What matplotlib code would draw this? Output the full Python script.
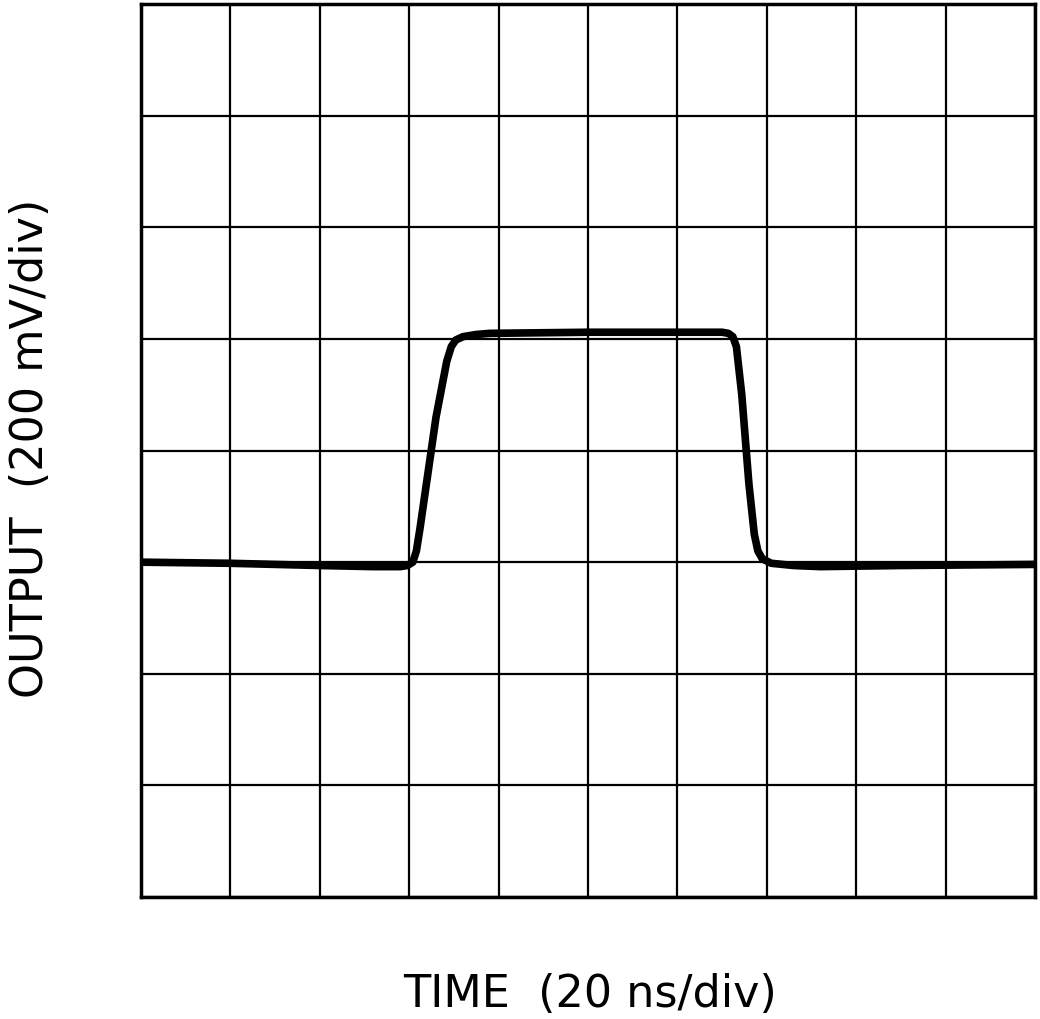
import matplotlib
matplotlib.use("Agg")
import matplotlib.pyplot as plt

# waveform, in divisions (x: 20 ns/div, y: 200 mV/div)
t_div = [0.0, 1.0, 2.0, 2.6, 2.9, 2.98, 3.04, 3.08, 3.12, 3.3, 3.42, 3.47, 3.52, 3.6, 3.75,
         3.9, 5.0, 6.0, 6.5, 6.57, 6.62, 6.66, 6.72, 6.8, 6.86, 6.9, 6.95, 7.05, 7.3,
         7.6, 8.5, 10.0]
v_div = [3.0, 2.99, 2.97, 2.96, 2.96, 2.97, 3.0, 3.1, 3.3, 4.3, 4.8, 4.93, 4.99, 5.02, 5.04,
         5.05, 5.06, 5.06, 5.06, 5.05, 5.02, 4.93, 4.5, 3.7, 3.25, 3.1, 3.03, 2.99, 2.97,
         2.96, 2.97, 2.98]

fig = plt.figure(figsize=(10.4, 10.19), dpi=100)
ax = fig.add_axes([0.1356, 0.1197, 0.8596, 0.8763])

ax.plot(t_div, v_div, color="black", linewidth=5.5, solid_joinstyle="round")

ax.set_xlim(0, 10)
ax.set_ylim(0, 8)
ax.set_xticks(range(11))
ax.set_yticks(range(9))
ax.grid(True, color="black", linewidth=1.6)
ax.tick_params(length=0, labelbottom=False, labelleft=False)
for s in ax.spines.values():
    s.set_linewidth(2.5)

fig.text(0.567, 0.024, "TIME  (20 ns/div)", fontsize=32, ha="center", va="center")
fig.text(0.029, 0.56, "OUTPUT  (200 mV/div)", fontsize=32, ha="center", va="center",
         rotation=90)

fig.savefig("out.png", dpi=100)
